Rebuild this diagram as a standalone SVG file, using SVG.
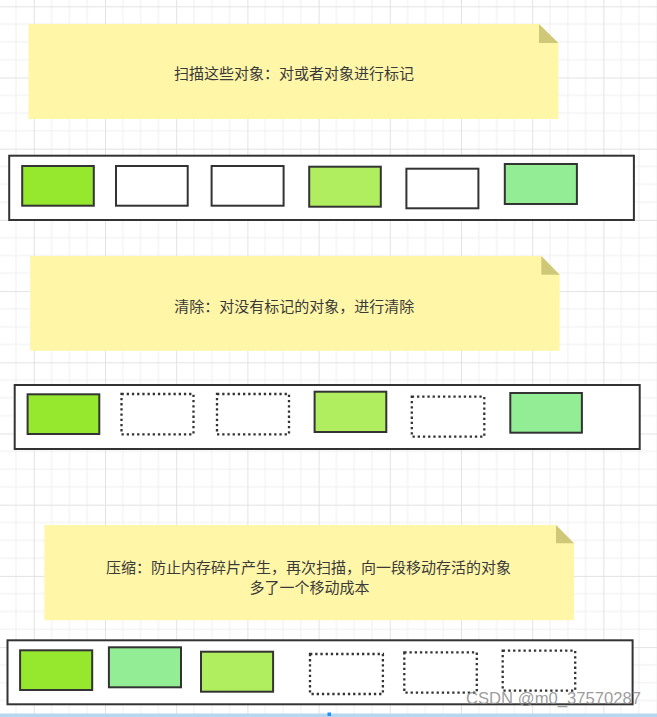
<svg xmlns="http://www.w3.org/2000/svg" width="657" height="717" viewBox="0 0 657 717">
<defs>
<pattern id="grid" patternUnits="userSpaceOnUse" x="33.8" y="6.3" width="71.2" height="71.2">
<path d="M17.8 0V71.2M35.6 0V71.2M53.4 0V71.2M0 17.8H71.2M0 35.6H71.2M0 53.4H71.2" stroke="#efefef" stroke-width="1" fill="none"/>
<path d="M0.5 0V71.2M0 0.5H71.2" stroke="#e2e2e2" stroke-width="1" fill="none"/>
</pattern>
</defs>
<style>
.note{fill:#fff6a8}
.fold{fill:#cfc878}
.txt{font-family:"Noto Sans CJK SC","Noto Sans",sans-serif;font-size:15px;fill:#3a3a3a;text-anchor:middle;dominant-baseline:central}
.outer{fill:#fff;stroke:#333;stroke-width:2}
.obj{stroke:#333;stroke-width:2}
.g1{fill:#95e82e}
.g2{fill:#b0ee60}
.g3{fill:#92ed94}
.w{fill:#fff}
.dot{fill:#fff;stroke:#333;stroke-width:2.3;stroke-dasharray:2.3 2.9}
</style>
<rect width="657" height="717" fill="#fff"/>
<rect width="657" height="717" fill="url(#grid)"/>

<g id="note1">
<polygon class="note" points="28.5,24 539,24 558.4,43 558.4,119 28.5,119"/>
<polygon class="fold" points="539,24 539,43 558.4,43"/>
<text class="txt" x="294" y="72">扫描这些对象：对或者对象进行标记</text>
</g>
<g id="heap1">
<rect class="outer" x="9.2" y="155.7" width="624.7" height="64.3"/>
<rect class="obj g1" x="22.2" y="166" width="71.6" height="39.7"/>
<rect class="obj w" x="116" y="166" width="71.7" height="39.7"/>
<rect class="obj w" x="211.6" y="166" width="72" height="39.7"/>
<rect class="obj g2" x="309.2" y="166.7" width="71.6" height="40"/>
<rect class="obj w" x="406.4" y="168.7" width="72" height="39.6"/>
<rect class="obj g3" x="504.8" y="164" width="72.1" height="40"/>
</g>

<g id="note2">
<polygon class="note" points="30.2,256 541.3,256 559.7,274.7 559.7,350.7 30.2,350.7"/>
<polygon class="fold" points="541.3,256 541.3,274.7 559.7,274.7"/>
<text class="txt" x="294.3" y="305">清除：对没有标记的对象，进行清除</text>
</g>
<g id="heap2">
<rect class="outer" x="14.7" y="385" width="625" height="64"/>
<rect class="obj g1" x="27.6" y="394.3" width="71.7" height="39.7"/>
<rect class="dot" x="121.5" y="394" width="72" height="40.3"/>
<rect class="dot" x="217" y="394" width="72" height="40.3"/>
<rect class="obj g2" x="314.6" y="391.7" width="71.7" height="40.3"/>
<rect class="dot" x="411.8" y="396.7" width="72.5" height="40"/>
<rect class="obj g3" x="510.3" y="393" width="71.6" height="39.7"/>
</g>

<g id="note3">
<polygon class="note" points="44.4,525 556,525 574,543.3 574,620.3 44.4,620.3"/>
<polygon class="fold" points="556,525 556,543.3 574,543.3"/>
<text class="txt" x="308.6" y="566">压缩：防止内存碎片产生，再次扫描，向一段移动存活的对象</text>
<text class="txt" x="309.6" y="586">多了一个移动成本</text>
</g>
<g id="heap3">
<rect class="outer" x="7.5" y="640.3" width="625.1" height="64"/>
<rect class="obj g1" x="20.1" y="650.3" width="72.1" height="39.7"/>
<rect class="obj g3" x="108.9" y="647.3" width="72.1" height="40"/>
<rect class="obj g2" x="201" y="651.7" width="72.1" height="40"/>
<rect class="dot" x="310" y="654" width="72.9" height="40"/>
<rect class="dot" x="404.3" y="652.3" width="72.5" height="40.4"/>
<rect class="dot" x="502.7" y="650.7" width="72.5" height="40"/>
</g>

<g id="footer">
<rect x="0" y="713.5" width="657" height="3.5" fill="#b5d8ee"/>
<rect x="327.5" y="712.5" width="3.5" height="3.5" fill="#1e90ff"/>
<text x="466" y="704" font-family="Liberation Sans, Arial, sans-serif" font-size="16.5" textLength="175" lengthAdjust="spacingAndGlyphs" fill="#8a8a8a" fill-opacity="0.85">CSDN @m0_37570287</text>
</g>
</svg>
